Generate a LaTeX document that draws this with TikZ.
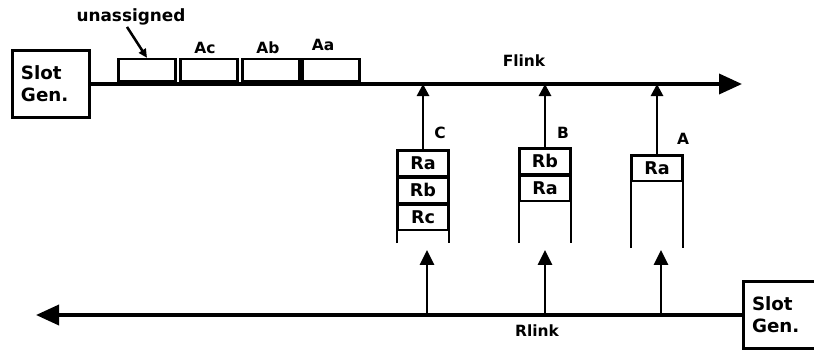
\documentclass[tikz,border=0pt]{standalone}
\usepackage{fontspec}
\setmainfont{DejaVu Sans}
\usetikzlibrary{arrows.meta,positioning}

\tikzset{
  slotgen/.style={draw, line width=1.5pt, minimum width=1.925cm, minimum height=1.675cm,
    text width=1.5cm, align=left, inner sep=0pt, font=\bfseries\fontsize{13}{15.5}\selectfont},
  slotbox/.style={draw, line width=1.5pt, minimum width=1.425cm, minimum height=0.55cm, inner sep=0pt},
  cellbox/.style={draw, line width=1.3pt, minimum width=1.25cm, minimum height=0.625cm,
    inner sep=0pt, font=\bfseries\fontsize{12.5}{14}\selectfont},
  tag/.style={inner sep=1pt, font=\bfseries\fontsize{11}{13}\selectfont},
  busline/.style={line width=2.6pt, -{Triangle[length=0.575cm, width=0.5cm]}},
  wall/.style={line width=1.6pt},
  feedtop/.style={line width=1.9pt, -{Triangle[length=0.3cm, width=0.3cm]}},
  feedbot/.style={line width=1.9pt, -{Triangle[length=0.37cm, width=0.35cm]}},
}

\begin{document}
\begin{tikzpicture}[x=0.025cm, y=-0.025cm]
\useasboundingbox (0,0) rectangle (814,349);

% slot generators
\node[slotgen] (fgen) at (51,84) {Slot\\Gen.};
\node[slotgen] (rgen) at (782,315) {Slot\\Gen.};

% forward link
\coordinate (fend) at (742,84);
\draw[busline] (fgen.east) -- (fend);
\node[tag] (flinklbl) at (524,61) {Flink};

% slots on the forward link
\node[slotbox, anchor=south] (s1) at (147,82) {};
\node[slotbox, anchor=south] (s2) at (209,82) {};
\node[slotbox, anchor=south] (s3) at (271,82) {};
\node[slotbox, anchor=south] (s4) at (331,82) {};
\node[tag] (lac) at (205,48) {Ac};
\node[tag] (lab) at (268,48) {Ab};
\node[tag] (laa) at (323,45) {Aa};
\node[tag, font=\bfseries\fontsize{12}{14}\selectfont] (unlbl) at (131,17) {unassigned};
\draw[line width=1.8pt, -{Triangle[length=0.22cm, width=0.2cm]}] ([xshift=-0.1cm]unlbl.south) -- (s1.north);

% station C
\node[cellbox, anchor=north] (ca) at (423,150) {Ra};
\node[cellbox, below=0pt of ca] (cb) {Rb};
\node[cellbox, below=0pt of cb] (cc) {Rc};
\coordinate (cbot) at (423,243);
\draw[wall] (ca.north west |- cbot) -- (ca.north west) -- (ca.north east) -- (ca.north east |- cbot);
\node[tag] (lc) at (440,133) {C};

% station B
\node[cellbox, anchor=north] (bb) at (545,148) {Rb};
\node[cellbox, below=0pt of bb] (ba) {Ra};
\coordinate (bbot) at (545,243);
\draw[wall] (bb.north west |- bbot) -- (bb.north west) -- (bb.north east) -- (bb.north east |- bbot);
\node[tag] (lb) at (563,133) {B};

% station A
\node[cellbox, anchor=north] (aa) at (657,155) {Ra};
\coordinate (abot) at (657,248);
\draw[wall] (aa.north west |- abot) -- (aa.north west) -- (aa.north east) -- (aa.north east |- abot);
\node[tag] (la) at (683,139) {A};

% stations onto the forward link
\draw[feedtop] (ca.north) -- (ca.north |- fgen.east);
\draw[feedtop] (bb.north) -- (bb.north |- fgen.east);
\draw[feedtop] (aa.north) -- (aa.north |- fgen.east);

% reverse link
\coordinate (rend) at (36,315);
\draw[busline] (rgen.west) -- (rend);
\node[tag] (rlinklbl) at (537,331) {Rlink};

% reverse link into the stations
\coordinate (cin) at (427,250);
\coordinate (bin) at (545,250);
\coordinate (ain) at (661,250);
\draw[feedbot] (cin |- rgen.west) -- (cin);
\draw[feedbot] (bin |- rgen.west) -- (bin);
\draw[feedbot] (ain |- rgen.west) -- (ain);
\end{tikzpicture}
\end{document}
